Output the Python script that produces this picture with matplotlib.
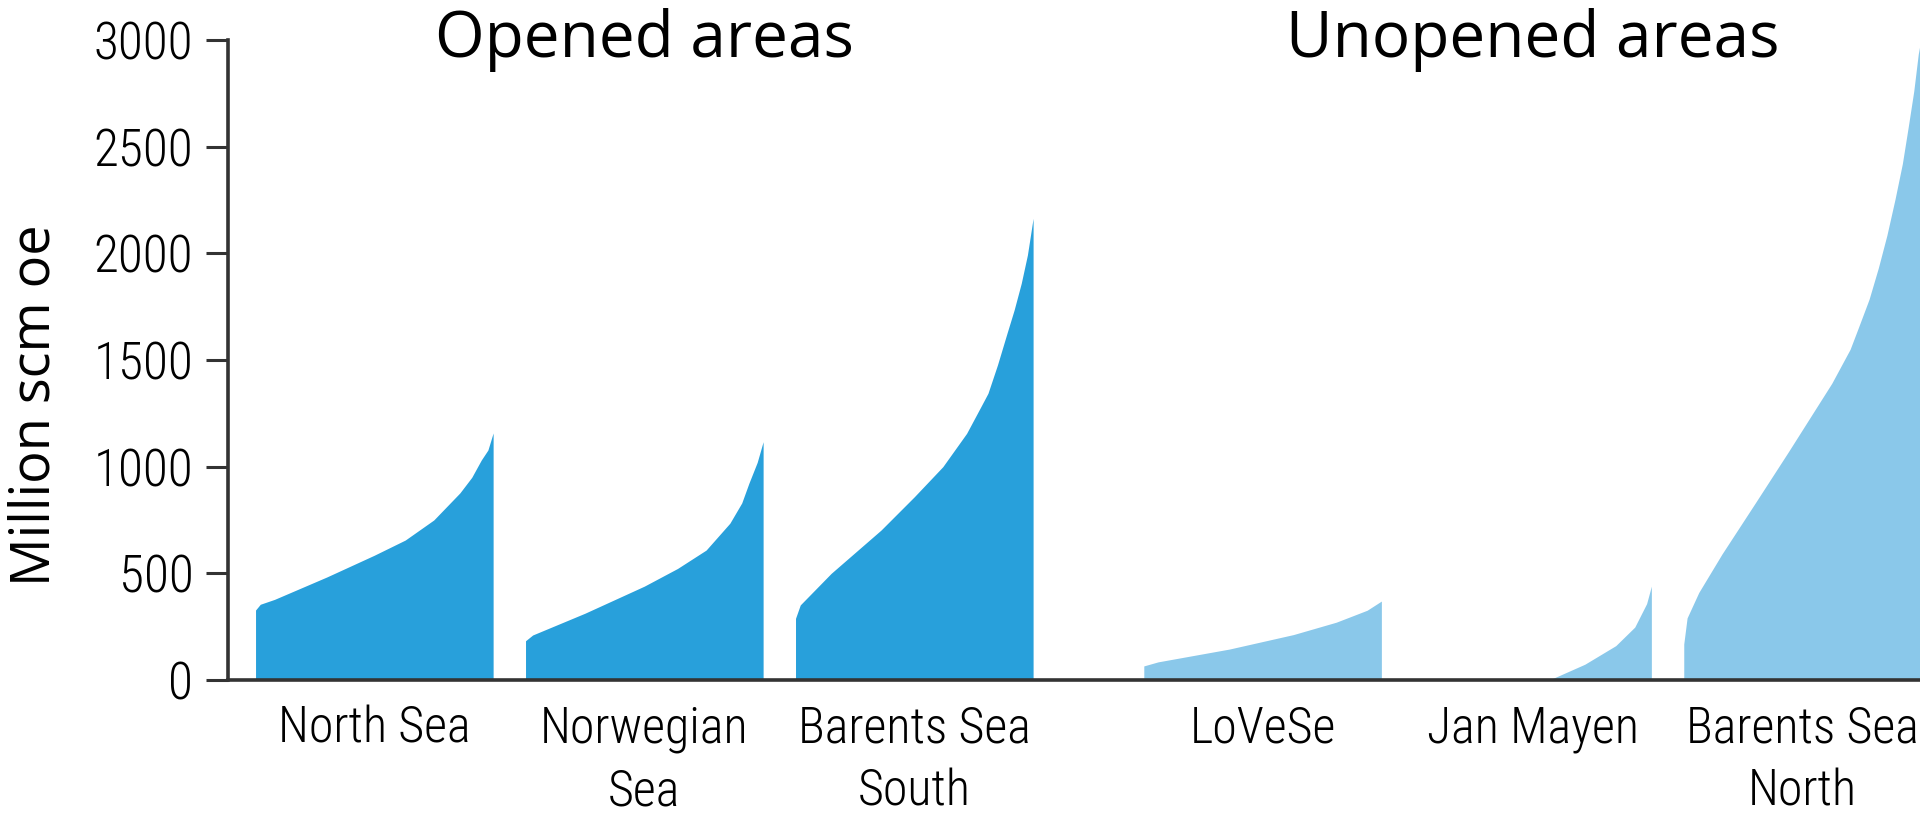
import matplotlib
matplotlib.use('Agg')
import matplotlib.pyplot as plt
from matplotlib import font_manager

# regions, left to right
regions = ['North Sea', 'Norwegian\nSea', 'Barents Sea\nSouth',
           'LoVeSe', 'Jan Mayen', 'Barents Sea\nNorth']
groups = ['Opened areas', 'Opened areas', 'Opened areas',
          'Unopened areas', 'Unopened areas', 'Unopened areas']

# cumulative curves: share of the region (0..1) -> million scm oe
north_sea_x = [0, 0.02, 0.08, 0.30, 0.50, 0.63, 0.75, 0.86, 0.91, 0.95, 0.978, 1.0]
north_sea_y = [328, 355, 378, 483, 585, 656, 750, 877, 950, 1031, 1078, 1158]

norwegian_x = [0, 0.03, 0.25, 0.50, 0.64, 0.76, 0.86, 0.91, 0.94, 0.975, 1.0]
norwegian_y = [184, 211, 313, 440, 523, 609, 735, 830, 922, 1020, 1117]

barents_s_x = [0, 0.02, 0.15, 0.36, 0.50, 0.62, 0.72, 0.78, 0.81, 0.85,
               0.89, 0.92, 0.95, 0.976, 1.0]
barents_s_y = [289, 352, 500, 703, 859, 1000, 1156, 1281, 1344, 1477,
               1625, 1734, 1859, 1992, 2164]

lovese_x = [0, 0.06, 0.36, 0.63, 0.81, 0.94, 1.0]
lovese_y = [66, 85, 145, 213, 271, 327, 370]

jan_mayen_x = [0, 0.57, 0.72, 0.85, 0.93, 0.98, 1.0]
jan_mayen_y = [0, 0, 74, 161, 248, 358, 440]

barents_n_x = [0, 0.014, 0.063, 0.161, 0.301, 0.441, 0.623, 0.70, 0.735, 0.78,
               0.819, 0.855, 0.889, 0.92, 0.945, 0.968, 0.987, 1.0]
barents_n_y = [169, 291, 410, 591, 830, 1071, 1391, 1550, 1652, 1785,
               1932, 2085, 2253, 2420, 2594, 2760, 2934, 3014]

curves = [(north_sea_x, north_sea_y), (norwegian_x, norwegian_y),
          (barents_s_x, barents_s_y), (lovese_x, lovese_y),
          (jan_mayen_x, jan_mayen_y), (barents_n_x, barents_n_y)]

yticks = [0, 500, 1000, 1500, 2000, 2500, 3000]

opened_col = '#28a0db'
unopened_col = '#8ac8ea'
axis_col = '#333333'

installed = {f.name for f in font_manager.fontManager.ttflist}
narrow = [f for f in ['Liberation Sans Narrow', 'Roboto Condensed', 'Liberation Sans']
          if f in installed] + ['DejaVu Sans']
plain = ['Open Sans', 'Noto Sans', 'DejaVu Sans']

fig = plt.figure(figsize=(19.2, 8.31), dpi=100)
ax = fig.add_axes([0.11875, 0.1817, 0.88125, 0.7702])

# bar slots (left edge of each region), group gap wider
lefts = [0, 1, 2, 3.29, 4.29, 5.29]
width = 0.88

for left, (fx, fy), grp in zip(lefts, curves, groups):
    xs = [left + width * f for f in fx]
    col = opened_col if grp == 'Opened areas' else unopened_col
    ax.fill_between(xs, 0, fy, color=col, linewidth=0)

ax.set_xlim(-0.102, 6.165)
ax.set_ylim(0, 3000)

for s in ['top', 'right']:
    ax.spines[s].set_visible(False)
for s in ['left', 'bottom']:
    ax.spines[s].set_color(axis_col)
    ax.spines[s].set_linewidth(2.6)

ax.set_yticks(yticks)
ax.set_yticklabels([str(v) for v in yticks], family=narrow, fontsize=37,
                   weight='light')
ax.tick_params(axis='y', length=16, width=2.2, color=axis_col, pad=9)

centers = [l + width / 2 for l in lefts]
ax.set_xticks(centers)
ax.set_xticklabels(regions, family=narrow, fontsize=36, weight='light',
                   linespacing=1.42)
ax.tick_params(axis='x', length=0, pad=18)

fig.text(0.018, 0.513, 'Million scm oe', family=plain, fontsize=39,
         rotation=90, ha='center', va='center')

# group titles
ax.text((lefts[0] + lefts[2] + width) / 2, 3000, 'Opened areas', family=plain,
        fontsize=46, ha='center', va='center')
ax.text((lefts[3] + lefts[5] + width) / 2, 3000, 'Unopened areas', family=plain,
        fontsize=46, ha='center', va='center')

fig.savefig('out.png', dpi=100)
